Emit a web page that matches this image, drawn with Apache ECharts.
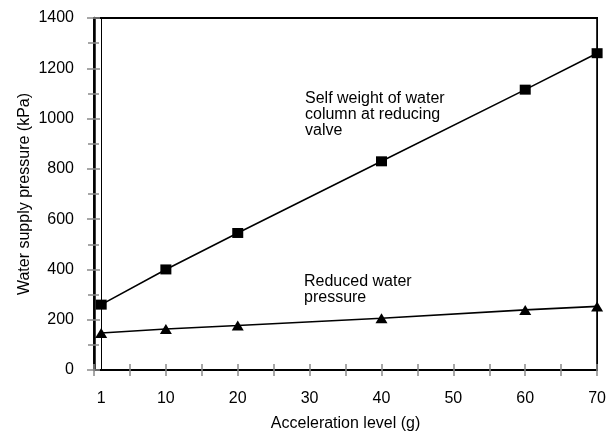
<!DOCTYPE html>
<html><head><meta charset="utf-8">
<script src="https://cdn.jsdelivr.net/npm/echarts@6/dist/echarts.min.js"></script>
<style>html,body{margin:0;padding:0;background:#fff}#c{width:609px;height:439px}</style>
</head><body><div id="c"></div>
<script>
const accel = [1, 10, 20, 40, 60, 70];
const selfWeight = [260, 400, 545, 830, 1115, 1260];
const reduced = [147, 163, 177, 206, 239, 253];
const xTickLabels = [1, 10, 20, 30, 40, 50, 60, 70];
const xTickMarks = [0, 5, 10, 15, 20, 25, 30, 35, 40, 45, 50, 55, 60, 65, 70];
const xName = 'Acceleration level (g)';
const yName = 'Water supply pressure (kPa)';
const selfLabel = 'Self weight of water\ncolumn at reducing\nvalve';
const reducedLabel = 'Reduced water\npressure';

const FONT = '"Liberation Sans", Arial, sans-serif';
const FS = 16;
const tickColor = '#8a8a8a';
const chart = echarts.init(document.getElementById('c'), null, {renderer: 'canvas'});

const xBase = {
  type: 'value', min: 0, max: 70, interval: 5,
  splitLine: {show: false}
};
const yBase = {
  type: 'value', min: 0, max: 1400, interval: 200,
  splitLine: {show: false}
};

chart.setOption({
  animation: false,
  backgroundColor: '#fff',
  grid: {left: 94, right: 11, top: 18, bottom: 69, show: true, borderColor: '#000', borderWidth: 1.8},
  xAxis: [
    Object.assign({}, xBase, {
      position: 'bottom',
      name: xName, nameLocation: 'middle', nameGap: 46, nameMoveOverlap: false,
      nameTextStyle: {fontFamily: FONT, fontSize: FS, color: '#000'},
      axisLine: {show: true, lineStyle: {color: '#000', width: 1.5}},
      axisTick: {show: true, inside: false, length: 6, customValues: xTickMarks, lineStyle: {color: tickColor, width: 1.5}},
      axisLabel: {show: true, margin: 21, customValues: xTickLabels, fontFamily: FONT, fontSize: FS, color: '#000'}
    }),
    Object.assign({}, xBase, {
      position: 'bottom',
      axisLine: {show: false},
      axisTick: {show: true, inside: true, length: 6, customValues: xTickMarks, lineStyle: {color: tickColor, width: 1.5}},
      axisLabel: {show: false}
    })
  ],
  yAxis: [
    Object.assign({}, yBase, {
      position: 'left',
      name: yName, nameLocation: 'middle', nameGap: 61, nameMoveOverlap: false,
      nameTextStyle: {fontFamily: FONT, fontSize: FS, color: '#000'},
      axisLine: {show: true, lineStyle: {color: '#000', width: 2.5}},
      axisTick: {show: true, inside: false, length: 7, lineStyle: {color: tickColor, width: 1.5}},
      minorTick: {show: true, splitNumber: 2, length: 6, lineStyle: {color: tickColor, width: 1.5}},
      axisLabel: {show: true, margin: 20, fontFamily: FONT, fontSize: FS, color: '#000', formatter: v => String(v)}
    }),
    Object.assign({}, yBase, {
      position: 'left',
      axisLine: {show: false},
      axisTick: {show: true, inside: true, length: 6, lineStyle: {color: tickColor, width: 1.5}},
      minorTick: {show: true, splitNumber: 2, length: 5, lineStyle: {color: tickColor, width: 1.5}},
      axisLabel: {show: false}
    })
  ],
  series: [
    {
      type: 'line', name: 'Self weight',
      data: accel.map((x, i) => [x, selfWeight[i]]),
      symbol: 'rect', symbolSize: [11, 10],
      lineStyle: {color: '#000', width: 1.6},
      itemStyle: {color: '#000'},
      z: 5,
      markLine: {
        silent: true, symbol: ['none', 'none'], label: {show: false},
        lineStyle: {color: '#000', width: 1, type: 'solid'},
        data: [{xAxis: accel[0]}]
      }
    },
    {
      type: 'line', name: 'Reduced',
      data: accel.map((x, i) => [x, reduced[i]]),
      symbol: 'triangle', symbolSize: [12, 10],
      lineStyle: {color: '#000', width: 1.6},
      itemStyle: {color: '#000'},
      z: 5
    }
  ],
  graphic: [
    {type: 'text', left: 305, top: 91, style: {text: selfLabel, fontFamily: FONT, fontSize: FS, lineHeight: 16, fill: '#000'}},
    {type: 'text', left: 304, top: 274, style: {text: reducedLabel, fontFamily: FONT, fontSize: FS, lineHeight: 16, fill: '#000'}}
  ]
});
</script>
</body></html>
